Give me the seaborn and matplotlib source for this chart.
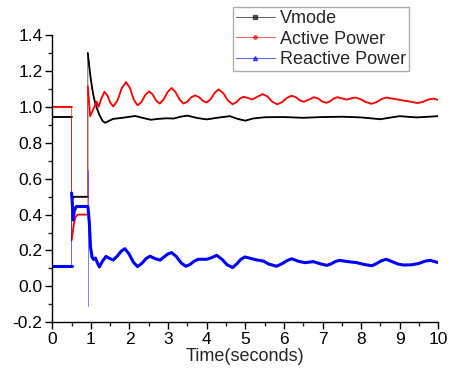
import matplotlib
matplotlib.use('Agg')
import matplotlib.pyplot as plt
from matplotlib.lines import Line2D
from matplotlib.ticker import MultipleLocator
import numpy as np
import seaborn as sns

# values (time in seconds)
t_vmode = [0, 0.5, 0.5, 0.53, 0.56, 0.92, 0.92, 0.96, 1.0, 1.05, 1.10, 1.15, 1.22, 1.30, 1.37,
           1.47, 1.58, 1.75, 1.95, 2.15, 2.35, 2.55, 2.75, 2.95, 3.15, 3.32, 3.50, 3.75, 4.0,
           4.3, 4.6, 4.8, 5.0, 5.2, 5.5, 6.0, 6.5, 7.0, 7.5, 8.0, 8.5, 8.75, 9.0, 9.45, 9.75, 10.0]
vmode = [0.945, 0.945, 0.47, 0.49, 0.499, 0.499, 1.30, 1.22, 1.15, 1.08, 1.03, 0.995, 0.955, 0.922, 0.911,
         0.922, 0.933, 0.937, 0.943, 0.949, 0.938, 0.928, 0.933, 0.936, 0.935, 0.945, 0.951, 0.938, 0.930,
         0.940, 0.948, 0.933, 0.923, 0.935, 0.942, 0.943, 0.939, 0.943, 0.945, 0.941, 0.931, 0.940, 0.948,
         0.941, 0.945, 0.948]

t_active = [0, 0.5, 0.5, 0.53, 0.56, 0.60, 0.66, 0.92, 0.92, 0.98, 1.07, 1.15, 1.20, 1.27, 1.35,
            1.427, 1.503, 1.58, 1.69, 1.80, 1.91, 2.01, 2.11, 2.21, 2.31, 2.41, 2.51, 2.60, 2.69,
            2.78, 2.88, 2.99, 3.09, 3.19, 3.30, 3.40, 3.50, 3.60, 3.70, 3.80, 3.90, 4.00, 4.10,
            4.21, 4.31, 4.43, 4.55, 4.67, 4.76, 4.86, 4.95, 5.06, 5.18, 5.32, 5.45, 5.58, 5.70,
            5.83, 5.95, 6.08, 6.20, 6.31, 6.41, 6.52, 6.65, 6.78, 6.89, 6.99, 7.10, 7.19, 7.29,
            7.38, 7.50, 7.63, 7.73, 7.84, 7.98, 8.13, 8.27, 8.40, 8.53, 8.66, 8.86, 9.07, 9.27,
            9.46, 9.60, 9.73, 9.87, 10.0]
active = [1.0, 1.0, 0.257, 0.30, 0.35, 0.385, 0.40, 0.40, 1.115, 0.948, 0.99, 1.028, 1.00, 1.045, 1.084,
          1.0635, 1.0225, 1.002, 1.036, 1.104, 1.138, 1.1055, 1.0405, 1.008, 1.0275, 1.0665, 1.086, 1.069, 1.035,
          1.018, 1.040, 1.083, 1.105, 1.083, 1.040, 1.018, 1.0295, 1.0525, 1.064, 1.054, 1.034, 1.024, 1.042,
          1.079, 1.097, 1.076, 1.035, 1.014, 1.0245, 1.0455, 1.056, 1.050, 1.041, 1.057, 1.071, 1.057, 1.028,
          1.014, 1.026, 1.050, 1.062, 1.0535, 1.0365, 1.028, 1.041, 1.054, 1.046, 1.030, 1.022, 1.030, 1.046,
          1.054, 1.047, 1.040, 1.046, 1.052, 1.043, 1.026, 1.017, 1.026, 1.043, 1.052, 1.044, 1.036, 1.029,
          1.021, 1.027, 1.040, 1.046, 1.038]

t_reactive = [0, 0.5, 0.5, 0.52, 0.54, 0.57, 0.62, 0.92, 0.93, 0.96, 0.99, 1.03, 1.07, 1.12, 1.17,
              1.22, 1.30, 1.39, 1.48, 1.58, 1.68, 1.78, 1.88, 1.99, 2.10, 2.21, 2.32, 2.43, 2.53,
              2.66, 2.79, 2.89, 2.99, 3.09, 3.21, 3.34, 3.46, 3.57, 3.67, 3.78, 4.0, 4.13, 4.26,
              4.40, 4.53, 4.67, 4.78, 4.88, 4.99, 5.15, 5.30, 5.47, 5.60, 5.81, 5.94, 6.07, 6.20,
              6.37, 6.55, 6.76, 6.94, 7.11, 7.22, 7.33, 7.44, 7.65, 7.89, 8.08, 8.28, 8.40, 8.52,
              8.65, 8.80, 8.95, 9.09, 9.30, 9.50, 9.65, 9.79, 10.0]
reactive = [0.113, 0.113, 0.52, 0.46, 0.37, 0.42, 0.445, 0.445, 0.43, 0.35, 0.22, 0.163, 0.150, 0.158, 0.130,
            0.108, 0.140, 0.167, 0.156, 0.147, 0.168, 0.195, 0.210, 0.180, 0.135, 0.110, 0.128, 0.155, 0.168,
            0.155, 0.146, 0.163, 0.180, 0.188, 0.167, 0.130, 0.112, 0.122, 0.140, 0.151, 0.151, 0.160, 0.173,
            0.150, 0.120, 0.105, 0.125, 0.150, 0.164, 0.155, 0.147, 0.141, 0.125, 0.112, 0.125, 0.142, 0.154,
            0.140, 0.132, 0.138, 0.126, 0.117, 0.125, 0.138, 0.145, 0.138, 0.132, 0.122, 0.115, 0.127, 0.142,
            0.151, 0.138, 0.125, 0.119, 0.120, 0.128, 0.140, 0.145, 0.132]

# switching spike of the reactive power at t = 0.92 s
t_spike = [0.92, 0.92]
spike = [0.65, -0.11]

sns.set_style('ticks')
plt.rcParams['font.family'] = ['Liberation Sans', 'DejaVu Sans']

fig = plt.figure(figsize=(4.52, 3.69), dpi=100)
ax = fig.add_axes([0.1157, 0.1266, 0.8540, 0.7785])


def draw(t, v, color, lw):
    t = np.asarray(t)
    # a new piece starts at every switching instant (repeated time)
    seg = np.concatenate([[0], np.cumsum(np.diff(t) == 0)])
    # thin line for the vertical jumps, thick line for the pieces
    sns.lineplot(x=t, y=v, ax=ax, color=color, lw=0.6, alpha=0.7, estimator=None, sort=False)
    sns.lineplot(x=t, y=v, units=seg, ax=ax, color=color, lw=lw, estimator=None, sort=False)


draw(t_vmode, vmode, 'black', 1.3)
draw(t_active, active, 'red', 1.3)
sns.lineplot(x=t_spike, y=spike, ax=ax, color='blue', lw=0.6, alpha=0.6, estimator=None, sort=False)
draw(t_reactive, reactive, 'blue', 2.2)

ax.set_xlim(0, 10)
ax.set_ylim(-0.2, 1.4)
ax.xaxis.set_major_locator(MultipleLocator(1))
ax.xaxis.set_minor_locator(MultipleLocator(0.5))
ax.yaxis.set_major_locator(MultipleLocator(0.2))
ax.yaxis.set_minor_locator(MultipleLocator(0.1))
ax.yaxis.set_major_formatter(plt.FuncFormatter(lambda v, p: '%.1f' % v))
ax.tick_params(which='major', length=5, width=1, direction='out', labelsize=12.5, pad=2, colors='black')
ax.tick_params(which='minor', length=3, width=1, direction='out')
sns.despine(ax=ax)
for s in ['left', 'bottom']:
    ax.spines[s].set_color('black')
    ax.spines[s].set_linewidth(1)
ax.set_xlabel('Time(seconds)', fontsize=13, labelpad=1)
ax.set_ylabel('')

handles = [
    Line2D([], [], color='black', lw=0.8, alpha=0.6, marker='s', ms=2.2, mfc='black', mec='black'),
    Line2D([], [], color='red', lw=0.8, alpha=0.6, marker='o', ms=2.5, mfc='red', mec='red'),
    Line2D([], [], color='blue', lw=0.8, alpha=0.6, marker='^', ms=3, mfc='blue', mec='blue'),
]
leg = ax.legend(handles, ['Vmode', 'Active Power', 'Reactive Power'],
                loc='upper left', bbox_to_anchor=(0.516, 0.980), bbox_transform=fig.transFigure,
                fontsize=13, frameon=True, fancybox=False, borderaxespad=0, borderpad=0.15,
                labelspacing=0.2, handlelength=2.15, handletextpad=0.3)
leg.get_frame().set_edgecolor('#999999')
leg.get_frame().set_linewidth(1)

fig.savefig('out.png', dpi=100)
